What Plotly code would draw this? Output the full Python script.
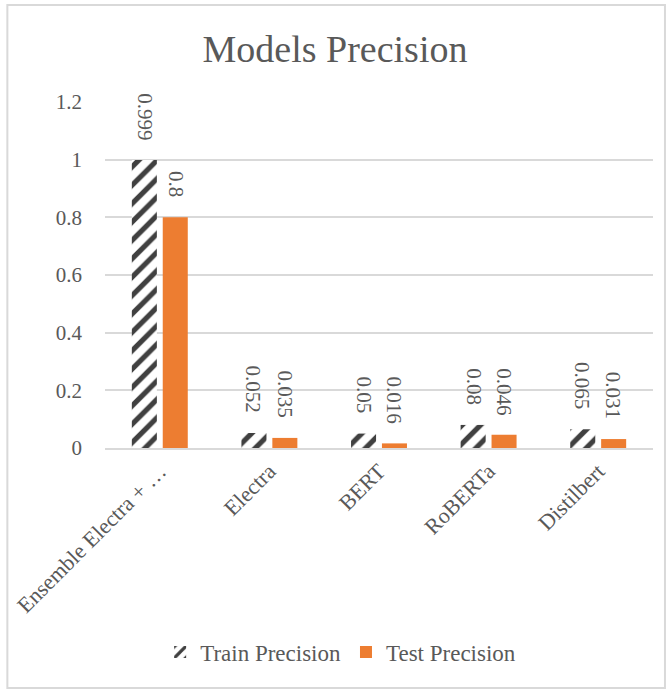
import plotly.graph_objects as go

categories = ["Ensemble Electra + …", "Electra", "BERT", "RoBERTa", "Distilbert"]
train_precision = [0.999, 0.052, 0.05, 0.08, 0.065]
test_precision = [0.8, 0.035, 0.016, 0.046, 0.031]
train_labels = ["0.999", "0.052", "0.05", "0.08", "0.065"]
test_labels = ["0.8", "0.035", "0.016", "0.046", "0.031"]

FONT = "Liberation Serif, Times New Roman, serif"
GRAY = "#595959"

fig = go.Figure()
fig.add_trace(go.Bar(
    x=categories, y=train_precision, name="Train Precision",
    marker=dict(color="white", line=dict(width=0),
                pattern=dict(shape="/", fgcolor="#404040", bgcolor="white",
                             fgopacity=1, fillmode="replace",
                             size=13, solidity=0.4)),
))
fig.add_trace(go.Bar(
    x=categories, y=test_precision, name="Test Precision",
    marker=dict(color="#ED7D31", line=dict(width=0)),
))

annotations = []
for cat, val, lab in zip(categories, train_precision, train_labels):
    annotations.append(dict(x=cat, y=val, text=lab, textangle=90, showarrow=False,
                            xref="x", yref="y", yanchor="bottom", xanchor="center",
                            xshift=-15.5, yshift=18,
                            font=dict(family=FONT, size=21, color=GRAY)))
for cat, val, lab in zip(categories, test_precision, test_labels):
    annotations.append(dict(x=cat, y=val, text=lab, textangle=90, showarrow=False,
                            xref="x", yref="y", yanchor="bottom", xanchor="center",
                            xshift=15.5, yshift=18,
                            font=dict(family=FONT, size=21, color=GRAY)))

fig.update_layout(
    width=670, height=690,
    paper_bgcolor="white", plot_bgcolor="white",
    margin=dict(l=103, r=17, t=102, b=242),
    barmode="group", bargap=0.436, bargroupgap=0.19,
    title=dict(text="Models Precision", x=0.5, xanchor="center", y=0.93, yanchor="middle",
               font=dict(family=FONT, size=38, color=GRAY)),
    font=dict(family=FONT, size=21, color=GRAY),
    legend=dict(orientation="h", x=0.43, xanchor="center", y=-0.59, yanchor="middle",
                font=dict(family=FONT, size=23, color=GRAY), itemwidth=30),
    annotations=annotations,
    shapes=[dict(type="rect", xref="paper", yref="paper",
                 x0=-98/550, x1=(665-103)/550, y0=-(688-448)/346, y1=(448-5)/346,
                 line=dict(color="#d9d9d9", width=2), fillcolor="rgba(0,0,0,0)", layer="below")],
)
fig.update_xaxes(
    tickangle=-45, tickfont=dict(family=FONT, size=22, color=GRAY),
    showline=True, linecolor="#d9d9d9", linewidth=1.5, ticks="",
    range=[-0.5, 4.5],
)
fig.update_yaxes(
    range=[0, 1.2], tickvals=[0, 0.2, 0.4, 0.6, 0.8, 1, 1.2],
    ticktext=["0", "0.2", "0.4", "0.6", "0.8", "1", "1.2"],
    tickfont=dict(family=FONT, size=21, color=GRAY),
    showgrid=True, gridcolor="#d9d9d9", gridwidth=1.5, zeroline=False,
    showline=False, ticks="", ticklabelstandoff=22,
)

fig.write_html("out.html")
